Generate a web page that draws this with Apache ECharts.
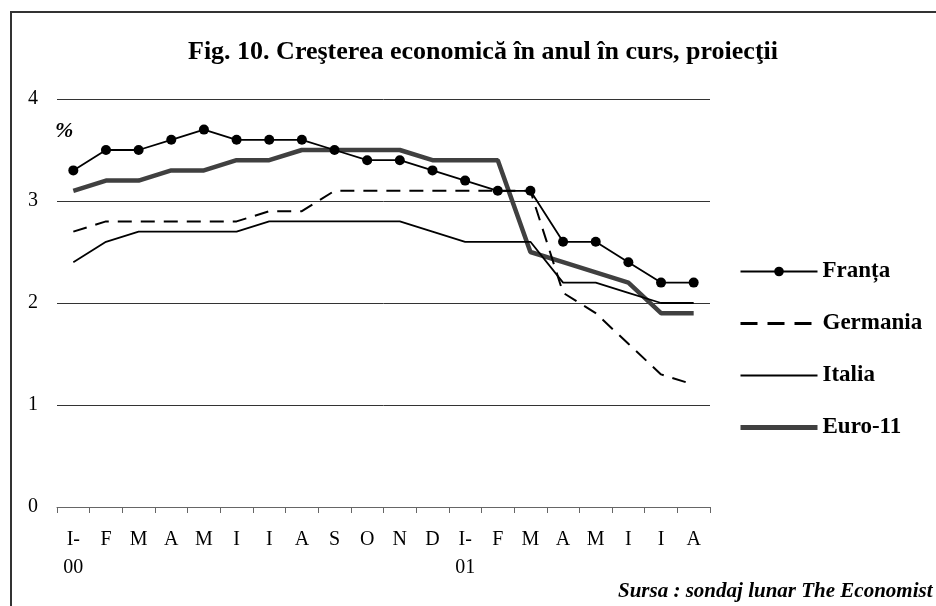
<!DOCTYPE html>
<html>
<head>
<meta charset="utf-8">
<script src="https://cdn.jsdelivr.net/npm/echarts@6/dist/echarts.min.js"></script>
<style>
  html, body { margin: 0; padding: 0; background: #fff; }
  #chart { width: 936px; height: 606px; }
</style>
</head>
<body>
<div id="chart"></div>
<script>
const months = ['I-\n00', 'F', 'M', 'A', 'M', 'I', 'I', 'A', 'S', 'O', 'N', 'D',
  'I-\n01', 'F', 'M', 'A', 'M', 'I', 'I', 'A']
const franta = [3.3, 3.5, 3.5, 3.6, 3.7, 3.6, 3.6, 3.6, 3.5, 3.4, 3.4, 3.3, 3.2, 3.1, 3.1, 2.6, 2.6, 2.4, 2.2, 2.2]
const germania = [2.7, 2.8, 2.8, 2.8, 2.8, 2.8, 2.9, 2.9, 3.1, 3.1, 3.1, 3.1, 3.1, 3.1, 3.1, 2.1, 1.9, 1.6, 1.3, 1.2]
const italia = [2.4, 2.6, 2.7, 2.7, 2.7, 2.7, 2.8, 2.8, 2.8, 2.8, 2.8, 2.7, 2.6, 2.6, 2.6, 2.2, 2.2, 2.1, 2.0, 2.0]
const euro11 = [3.1, 3.2, 3.2, 3.3, 3.3, 3.4, 3.4, 3.5, 3.5, 3.5, 3.5, 3.4, 3.4, 3.4, 2.5, 2.4, 2.3, 2.2, 1.9, 1.9]

const serif = '"Liberation Serif", "DejaVu Serif", serif'

const chart = echarts.init(document.getElementById('chart'))
chart.setOption({
  animation: false,
  backgroundColor: '#fff',
  title: {
    text: 'Fig. 10. Creşterea economică în anul în curs, proiecţii',
    left: 478,
    textAlign: 'center',
    top: 34,
    textStyle: { fontFamily: serif, fontSize: 26, fontWeight: 'bold', color: '#000' }
  },
  graphic: [{
    type: 'rect',
    shape: { x: 11, y: 12, width: 1000, height: 1000 },
    style: { fill: null, stroke: '#333', lineWidth: 2 },
    silent: true
  }, {
    type: 'text',
    left: 55,
    top: 120,
    style: { text: '%', font: 'italic bold 22px ' + serif, fill: '#000' }
  }, {
    type: 'text',
    left: 618,
    top: 581,
    style: { text: 'Sursa : sondaj lunar The Economist', font: 'italic bold 21px ' + serif, fill: '#000' }
  }],
  legend: {
    orient: 'vertical',
    left: 733,
    top: 255,
    itemGap: 29,
    itemWidth: 77,
    itemHeight: 12,
    textStyle: { fontFamily: serif, fontSize: 23, fontWeight: 'bold', color: '#000' },
    data: [
      { name: 'Franța', lineStyle: { width: 2, color: '#000' } },
      { name: 'Germania', itemStyle: { opacity: 0 }, lineStyle: { width: 3, type: [17, 10], color: '#000' } },
      { name: 'Italia', itemStyle: { opacity: 0 }, lineStyle: { width: 2, color: '#000' } },
      { name: 'Euro-11', itemStyle: { opacity: 0 }, lineStyle: { width: 5, color: '#404040' } }
    ]
  },
  grid: { left: 57, right: 226, top: 99, bottom: 99 },
  xAxis: {
    type: 'category',
    data: months,
    boundaryGap: true,
    axisLine: { lineStyle: { color: '#666', width: 1 } },
    axisTick: { show: true, length: 6, lineStyle: { color: '#666' } },
    axisLabel: { fontFamily: serif, fontSize: 20, color: '#000', margin: 19, lineHeight: 28, interval: 0 }
  },
  yAxis: {
    type: 'value',
    min: 0,
    max: 4,
    interval: 1,
    axisLine: { show: false },
    axisTick: { show: false },
    splitLine: { lineStyle: { color: '#333', width: 1 } },
    axisLabel: { fontFamily: serif, fontSize: 20, color: '#000', margin: 19 }
  },
  series: [{
    name: 'Euro-11',
    type: 'line',
    data: euro11,
    symbol: 'none',
    lineStyle: { color: '#404040', width: 4.5 },
    itemStyle: { color: '#404040' },
    z: 2
  }, {
    name: 'Franța',
    type: 'line',
    data: franta,
    symbol: 'circle',
    symbolSize: 10,
    lineStyle: { color: '#000', width: 1.8 },
    itemStyle: { color: '#000' },
    z: 5
  }, {
    name: 'Germania',
    type: 'line',
    data: germania,
    symbol: 'none',
    lineStyle: { color: '#000', width: 2, type: [14, 9] },
    itemStyle: { color: '#000' },
    z: 3
  }, {
    name: 'Italia',
    type: 'line',
    data: italia,
    symbol: 'none',
    lineStyle: { color: '#000', width: 1.8 },
    itemStyle: { color: '#000' },
    z: 3
  }]
})
</script>
</body>
</html>
